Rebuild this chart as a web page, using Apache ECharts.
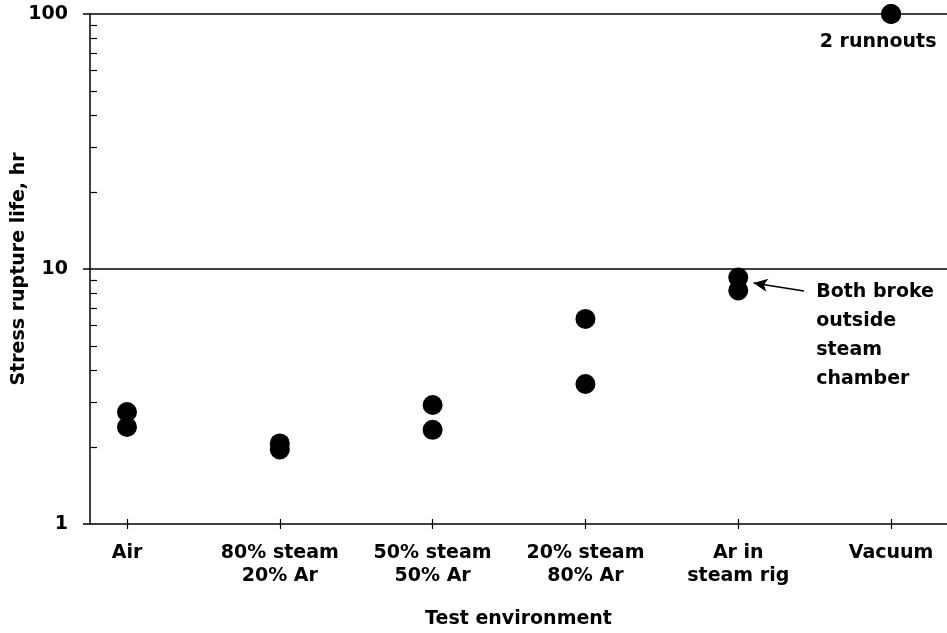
<!DOCTYPE html>
<html>
<head>
<meta charset="utf-8">
<script src="https://cdn.jsdelivr.net/npm/echarts@6/dist/echarts.min.js"></script>
<style>
  html, body { margin: 0; padding: 0; background: #fff; }
  #chart { width: 947px; height: 633px; }
</style>
</head>
<body>
<div id="chart"></div>
<script>
// test environments along the x axis
var environments = ['Air', '80% steam\n20% Ar', '50% steam\n50% Ar', '20% steam\n80% Ar', 'Ar in\nsteam rig', 'Vacuum']
var envTicks = [0, 1, 2, 3, 4, 5]

// each specimen: which environment, and its rupture life (hr)
var envIndex = [0, 0, 1, 1, 2, 2, 3, 3, 4, 4, 5, 5]
var ruptureLife = [2.75, 2.40, 2.07, 1.96, 2.93, 2.34, 6.37, 3.54, 9.26, 8.24, 100, 100]

// log axis ticks
var yMajorTicks = [1, 10, 100]
var yMinorTicks = [2, 3, 4, 5, 6, 7, 8, 9, 20, 30, 40, 50, 60, 70, 80, 90]

var font = 'DejaVu Sans'
var txt = { color: '#000', fontFamily: font, fontWeight: 'bold', fontSize: 19 }

var chart = echarts.init(document.getElementById('chart'))

var points = envIndex.map(function(e, i) {
  var item = { value: [e, ruptureLife[i]] }
  if (i === envIndex.length - 1) {
    item.label = {
      show: true,
      position: 'bottom',
      distance: 9,
      offset: [-13, 0],
      formatter: '2 runnouts',
      color: '#000',
      fontFamily: font,
      fontWeight: 'bold',
      fontSize: 19
    }
  }
  return item
})

chart.setOption({
  animation: false,
  backgroundColor: '#fff',
  grid: {
    left: 90,
    right: 0,
    top: 14,
    bottom: 109,
    containLabel: false,
    outerBoundsMode: 'none'
  },
  xAxis: [{
    type: 'value',
    min: -0.242,
    max: 5.366,
    name: 'Test environment',
    nameLocation: 'middle',
    nameGap: 86,
    nameMoveOverlap: false,
    nameTextStyle: txt,
    axisLine: { show: true, onZero: false, lineStyle: { color: '#000', width: 1.5 } },
    axisTick: { show: true, length: 5, customValues: envTicks, lineStyle: { color: '#000', width: 1.2 } },
    axisLabel: {
      customValues: envTicks,
      margin: 18,
      lineHeight: 23,
      color: '#000',
      fontFamily: font,
      fontWeight: 'bold',
      fontSize: 19,
      formatter: function(v) {
        return environments[Math.round(v)]
      }
    },
    splitLine: { show: false }
  }, {
    type: 'value',
    min: -0.242,
    max: 5.366,
    position: 'bottom',
    axisLine: { show: false, onZero: false },
    axisTick: { show: true, inside: true, length: 5, customValues: envTicks, lineStyle: { color: '#000', width: 1.2 } },
    axisLabel: { show: false },
    splitLine: { show: false }
  }],
  yAxis: [{
    type: 'log',
    logBase: 10,
    min: 1,
    max: 100,
    name: 'Stress rupture life, hr',
    nameLocation: 'middle',
    nameGap: 61,
    nameMoveOverlap: false,
    nameTextStyle: txt,
    axisLine: { show: true, onZero: false, lineStyle: { color: '#000', width: 1.5 } },
    axisTick: { show: true, inside: true, length: 7, customValues: yMinorTicks, lineStyle: { color: '#000', width: 1.2 } },
    axisLabel: {
      customValues: yMajorTicks,
      margin: 22,
      color: '#000',
      fontFamily: font,
      fontWeight: 'bold',
      fontSize: 19
    },
    splitLine: { show: false }
  }, {
    type: 'log',
    logBase: 10,
    min: 1,
    max: 100,
    position: 'left',
    axisLine: { show: false, onZero: false },
    axisTick: { show: true, length: 7, customValues: yMajorTicks, lineStyle: { color: '#000', width: 1.5 } },
    axisLabel: { show: false },
    splitLine: { show: false }
  }],
  series: [{
    type: 'scatter',
    symbol: 'circle',
    symbolSize: 20,
    clip: false,
    itemStyle: { color: '#000', opacity: 1 },
    data: points,
    markLine: {
      silent: true,
      symbol: 'none',
      label: { show: false },
      lineStyle: { color: '#000', type: 'solid', width: 1.5 },
      data: [
        { yAxis: 10 },
        { yAxis: 100 },
        [
          { coord: [4.43, 8.19], symbol: 'none' },
          { coord: [4.10, 8.81], symbol: 'arrow', symbolSize: [10, 14] }
        ]
      ]
    },
    markPoint: {
      silent: true,
      symbol: 'circle',
      symbolSize: 0,
      data: [{
        coord: [4.51, 5.49],
        label: {
          show: true,
          position: 'right',
          distance: 0,
          align: 'left',
          lineHeight: 29,
          formatter: 'Both broke\noutside\nsteam\nchamber',
          color: '#000',
          fontFamily: font,
          fontWeight: 'bold',
          fontSize: 19
        }
      }]
    }
  }]
})
</script>
</body>
</html>
